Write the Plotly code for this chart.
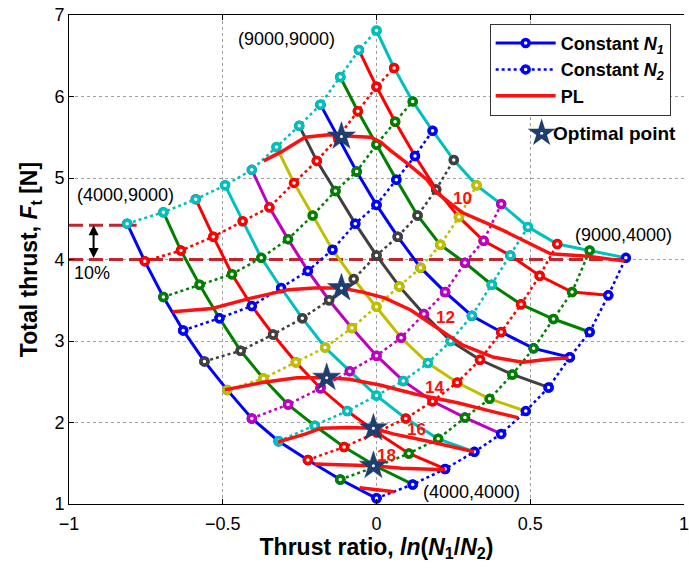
import numpy as np
import plotly.graph_objects as go

# Rotor speeds [rpm] used for both N1 and N2
N_values = [4000, 4500, 5000, 5500, 6000, 6500, 7000, 7500, 8000, 8500, 9000]

# Total thrust F_t [N] along each constant-N2 curve, ordered by N1 = 4000 ... 9000
thrust_N2_4000 = [1.07, 1.24, 1.43, 1.64, 1.86, 2.14, 2.43, 2.80, 3.11, 3.56, 4.02]
thrust_N2_4500 = [1.30, 1.46, 1.62, 1.80, 2.06, 2.29, 2.59, 2.91, 3.27, 3.60, 4.11]
thrust_N2_5000 = [1.54, 1.70, 1.88, 2.05, 2.26, 2.49, 2.77, 3.11, 3.45, 3.80, 4.19]
thrust_N2_5500 = [1.77, 1.96, 2.14, 2.33, 2.51, 2.73, 3.00, 3.31, 3.69, 4.05, 4.40]
thrust_N2_6000 = [2.05, 2.22, 2.42, 2.63, 2.82, 3.04, 3.33, 3.60, 3.96, 4.23, 4.68]
thrust_N2_6500 = [2.40, 2.54, 2.74, 2.92, 3.16, 3.42, 3.67, 3.90, 4.18, 4.52, 4.91]
thrust_N2_7000 = [2.75, 2.88, 3.08, 3.28, 3.50, 3.76, 4.05, 4.28, 4.54, 4.86, 5.22]
thrust_N2_7500 = [3.13, 3.28, 3.43, 3.65, 3.86, 4.12, 4.44, 4.67, 4.98, 5.27, 5.58]
thrust_N2_8000 = [3.54, 3.69, 3.82, 4.02, 4.25, 4.54, 4.84, 5.08, 5.41, 5.69, 5.94]
thrust_N2_8500 = [3.98, 4.11, 4.28, 4.47, 4.64, 4.94, 5.21, 5.50, 5.82, 6.12, 6.35]
thrust_N2_9000 = [4.44, 4.58, 4.74, 4.91, 5.10, 5.38, 5.64, 5.90, 6.24, 6.57, 6.81]

# Power-level (PL) curves: thrust ratio and total thrust
pl_labels = ["10", "12", "14", "16", "18"]
pl10_x = [-0.367, -0.31, -0.232, -0.157, -0.07, -0.018, 0.014, 0.045, 0.10, 0.164, 0.196, 0.277, 0.41, 0.495, 0.566, 0.688, 0.807]
pl10_y = [5.21, 5.32, 5.50, 5.53, 5.51, 5.50, 5.44, 5.34, 5.18, 4.98, 4.82, 4.58, 4.36, 4.20, 4.07, 4.04, 3.98]
pl12_x = [-0.663, -0.534, -0.415, -0.286, -0.202, -0.114, -0.045, 0.026, 0.111, 0.196, 0.281, 0.381, 0.476, 0.565, 0.624]
pl12_y = [3.36, 3.40, 3.52, 3.63, 3.65, 3.65, 3.60, 3.53, 3.38, 3.16, 2.95, 2.80, 2.74, 2.78, 2.79]
pl14_x = [-0.493, -0.372, -0.259, -0.162, -0.088, 0.011, 0.125, 0.267, 0.381, 0.46]
pl14_y = [2.40, 2.49, 2.55, 2.55, 2.53, 2.46, 2.35, 2.24, 2.13, 2.06]
pl16_x = [-0.322, -0.230, -0.180, -0.088, -0.01, 0.054, 0.168, 0.318]
pl16_y = [1.76, 1.86, 1.93, 1.94, 1.93, 1.86, 1.77, 1.64]
pl18_x = [-0.202, -0.102, -0.01, 0.082, 0.224]
pl18_y = [1.49, 1.48, 1.47, 1.44, 1.42]
pl20_x = [-0.055, 0.058]
pl20_y = [1.20, 1.15]

# Optimal point on each PL curve
opt_x = [-0.114, -0.114, -0.162, -0.01, -0.01]
opt_y = [5.51, 3.65, 2.55, 1.93, 1.47]

# PL label positions
pl_label_x = [0.279, 0.225, 0.19, 0.129, 0.032]
pl_label_y = [4.75, 3.29, 2.43, 1.91, 1.59]

# Corner annotations of the speed grid
corner_text = ["(9000,9000)", "(4000,9000)", "(9000,4000)", "(4000,4000)"]
corner_x = [-0.294, -0.815, 0.804, 0.31]
corner_y = [6.71, 4.79, 4.30, 1.15]

# 10% thrust band: levels and right ends of the dashed guides
band_levels = [4.42, 4.0]
band_x_end = [-0.78, 0.81]

thrust = np.array([thrust_N2_4000, thrust_N2_4500, thrust_N2_5000, thrust_N2_5500,
                   thrust_N2_6000, thrust_N2_6500, thrust_N2_7000, thrust_N2_7500,
                   thrust_N2_8000, thrust_N2_8500, thrust_N2_9000])  # [j(N2), i(N1)]
N = np.array(N_values, dtype=float)

colors = ["#0000ff", "#008000", "#ff0000", "#00bfbf", "#bf00bf", "#bfbf00", "#404040"]
PL_RED = "#ff1010"
BAND_RED = "#c0262d"
STAR = "#1f3d6e"

fig = go.Figure()

# dashed 10% guides
for lvl, xe in zip(band_levels, band_x_end):
    fig.add_trace(go.Scatter(x=[-1, xe], y=[lvl, lvl], mode="lines",
                             line=dict(color=BAND_RED, width=3, dash="14px,6px"),
                             showlegend=False, hoverinfo="skip"))

def marker(c):
    return dict(symbol="circle", size=7, color="white", line=dict(color=c, width=3.5))

# constant N1 curves (solid)
for i, n1 in enumerate(N):
    c = colors[i % len(colors)]
    fig.add_trace(go.Scatter(
        x=np.log(n1 / N), y=thrust[:, i], mode="lines+markers",
        line=dict(color=c, width=3), marker=marker(c),
        name="Constant <i>N<sub>1</sub></i>", legendgroup="n1",
        showlegend=(i == 0)))

# constant N2 curves (dotted)
for j, n2 in enumerate(N):
    c = colors[j % len(colors)]
    fig.add_trace(go.Scatter(
        x=np.log(N / n2), y=thrust[j, :], mode="lines+markers",
        line=dict(color=c, width=2.5, dash="dot"), marker=marker(c),
        name="Constant <i>N<sub>2</sub></i>", legendgroup="n2",
        showlegend=(j == 0)))

# PL curves
pl_curves = [(pl10_x, pl10_y), (pl12_x, pl12_y), (pl14_x, pl14_y),
             (pl16_x, pl16_y), (pl18_x, pl18_y), (pl20_x, pl20_y)]
for k, (px, py) in enumerate(pl_curves):
    fig.add_trace(go.Scatter(x=px, y=py, mode="lines",
                             line=dict(color=PL_RED, width=3.5),
                             name="PL", legendgroup="pl", showlegend=(k == 0)))

# optimal points
fig.add_trace(go.Scatter(x=opt_x, y=opt_y, mode="markers",
                         marker=dict(symbol="star", size=21, color=STAR,
                                     line=dict(color=STAR, width=0.5)),
                         showlegend=False))
fig.add_trace(go.Scatter(x=opt_x, y=opt_y, mode="markers",
                         marker=dict(symbol="circle", size=3, color="white"),
                         showlegend=False, hoverinfo="skip"))

# star used as the "Optimal point" key
key_x, key_y = [0.537], [5.55]
fig.add_trace(go.Scatter(x=key_x, y=key_y, mode="markers",
                         marker=dict(symbol="star", size=21, color=STAR),
                         showlegend=False))
fig.add_trace(go.Scatter(x=key_x, y=key_y, mode="markers",
                         marker=dict(symbol="circle", size=3, color="white"),
                         showlegend=False, hoverinfo="skip"))
fig.add_annotation(x=0.567, y=5.55, text="Optimal point", showarrow=False,
                   xanchor="left", font=dict(size=19, color="black", weight="bold"))

# PL value labels
for t, lx, ly in zip(pl_labels, pl_label_x, pl_label_y):
    fig.add_annotation(x=lx, y=ly, text=t, showarrow=False,
                       font=dict(size=17, color=PL_RED, weight="bold"))

# corner labels
for t, cx, cy in zip(corner_text, corner_x, corner_y):
    fig.add_annotation(x=cx, y=cy, text=t, showarrow=False,
                       font=dict(size=18, color="black"))

# 10% band arrow and label
fig.add_annotation(x=-0.92, y=band_levels[0], ax=-0.92, ay=band_levels[1],
                   xref="x", yref="y", axref="x", ayref="y", text="",
                   showarrow=True, arrowhead=2, arrowside="end+start",
                   arrowsize=1, arrowwidth=2, arrowcolor="black")
fig.add_annotation(x=-0.926, y=3.83, text="10%", showarrow=False,
                   font=dict(size=18, color="black"))

axis_font = dict(family="Liberation Sans, Arial, sans-serif", size=18, color="black")
fig.update_layout(
    width=689, height=569,
    margin=dict(l=69, r=0, t=15, b=65),
    paper_bgcolor="white", plot_bgcolor="white",
    font=dict(family="Liberation Sans, Arial, sans-serif", color="black"),
    legend=dict(x=0.684, y=0.982, xanchor="left", yanchor="top",
                bgcolor="white", bordercolor="#333333", borderwidth=1,
                font=dict(size=18, color="black", weight="bold"),
                itemwidth=60, tracegroupgap=0),
    xaxis=dict(range=[-1, 1], tickvals=[-1, -0.5, 0, 0.5, 1],
               ticks="inside", ticklen=5, tickcolor="black",
               ticklabeloverflow="allow", ticklabelstandoff=3,
               showline=True, linecolor="black", linewidth=1, mirror="ticks",
               showgrid=True, gridcolor="#a0a0a0", griddash="dot", gridwidth=1,
               zeroline=False, tickfont=axis_font,
               title=dict(text="Thrust ratio, <i>ln</i>(<i>N</i><sub>1</sub>/<i>N</i><sub>2</sub>)",
                          font=dict(size=23, color="black", weight="bold"), standoff=5)),
    yaxis=dict(range=[1, 7], dtick=1,
               ticks="inside", ticklen=5, tickcolor="black",
               showline=True, linecolor="black", linewidth=1,
               showgrid=True, gridcolor="#a0a0a0", griddash="dot", gridwidth=1,
               zeroline=False, tickfont=axis_font,
               title=dict(text="Total thrust, <i>F</i><sub>t</sub> [N]",
                          font=dict(size=23, color="black", weight="bold"), standoff=10)),
)

fig.write_html("out.html")
